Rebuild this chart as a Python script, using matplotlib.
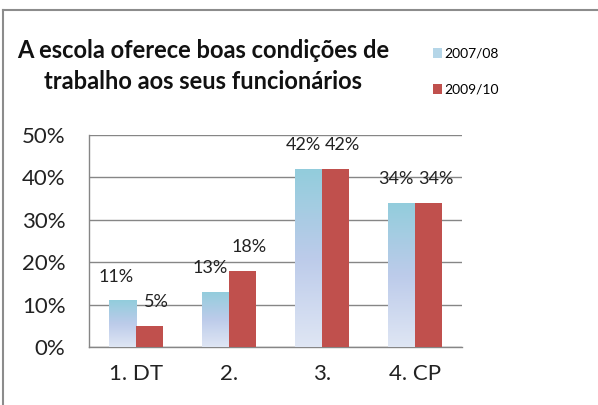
import numpy as np
import matplotlib
matplotlib.use("Agg")
import matplotlib.pyplot as plt
from matplotlib.colors import LinearSegmentedColormap
from matplotlib.patches import Patch
from matplotlib.lines import Line2D

categories = ["1. DT", "2.", "3.", "4. CP"]
series_names = ["2007/08", "2009/10"]
vals_0708 = [11, 13, 42, 34]
vals_0910 = [5, 18, 42, 34]
title = "A escola oferece boas condições de\ntrabalho aos seus funcionários"

plt.rcParams['font.family'] = ['Lato', 'DejaVu Sans']

W, H = 598, 405
fig = plt.figure(figsize=(W / 100, H / 100), dpi=100)
ax = fig.add_axes([89 / W, 1 - 347 / H, (462 - 89) / W, (347 - 135) / H])

blue_cmap = LinearSegmentedColormap.from_list(
    "bg", [(0, "#dfe6f4"), (0.5, "#bccbea"), (1, "#92cddc")])
red = "#c0504d"
bw = 0.29
x = np.arange(len(categories))

# blue bars with vertical gradient
bars_b = ax.bar(x - bw / 2, vals_0708, bw, color="none", edgecolor="none", zorder=3)
grad = np.linspace(0, 1, 256).reshape(-1, 1)
for b in bars_b:
    x0, y0 = b.get_x(), b.get_y()
    w, h = b.get_width(), b.get_height()
    im = ax.imshow(grad, cmap=blue_cmap, origin="lower", aspect="auto",
                   extent=[x0, x0 + w, y0, y0 + h], zorder=3)
    im.set_clip_path(b)
bars_r = ax.bar(x + bw / 2, vals_0910, bw, color=red, edgecolor="none", zorder=3)

ax.set_xlim(-0.5, len(categories) - 0.5)
ax.set_ylim(0, 50)

for b, v in zip(bars_b, vals_0708):
    ax.annotate(f"{v}%", (b.get_x() + b.get_width() / 2, v), xytext=(-4, 17),
                textcoords="offset points", ha="center", va="center",
                fontsize=13, color="#222222", zorder=4)
for b, v in zip(bars_r, vals_0910):
    ax.annotate(f"{v}%", (b.get_x() + b.get_width() / 2, v), xytext=(5, 17),
                textcoords="offset points", ha="center", va="center",
                fontsize=13, color="#222222", zorder=4)

ax.set_yticks(np.arange(0, 51, 10))
ax.set_yticklabels([f"{t}%" for t in range(0, 51, 10)], fontsize=16, color="#222222")
ax.set_xticks(x)
ax.set_xticklabels(categories, fontsize=16, color="#222222")
ax.tick_params(axis="y", length=0, pad=17)
ax.tick_params(axis="x", length=0, pad=12)
ax.grid(axis="y", color="#868686", lw=1, zorder=1)
for s in ["top", "right"]:
    ax.spines[s].set_visible(False)
for s in ["left", "bottom"]:
    ax.spines[s].set_color("#868686")
    ax.spines[s].set_linewidth(1)

fig.text(203 / W, 1 - 66 / H, title, ha="center", va="center", fontsize=17,
         fontweight="bold", linespacing=1.45, color="#111111")

handles = [Patch(facecolor="#b5d6e8", edgecolor="none"),
           Patch(facecolor=red, edgecolor="none")]
fig.legend(handles, series_names, loc="upper left",
           bbox_to_anchor=(427 / W, 1 - 42 / H), frameon=False, fontsize=10,
           handlelength=0.7, handleheight=0.7, handletextpad=0.15,
           labelspacing=1.75, borderaxespad=0)

# outer chart border (top and left visible)
fig.add_artist(Line2D([3 / W, 1], [1 - 9.5 / H, 1 - 9.5 / H], color="#8c8c8c", lw=1.5))
fig.add_artist(Line2D([3 / W, 3 / W], [0, 1 - 9.5 / H], color="#8c8c8c", lw=1.5))

fig.savefig("out.png", dpi=100)
